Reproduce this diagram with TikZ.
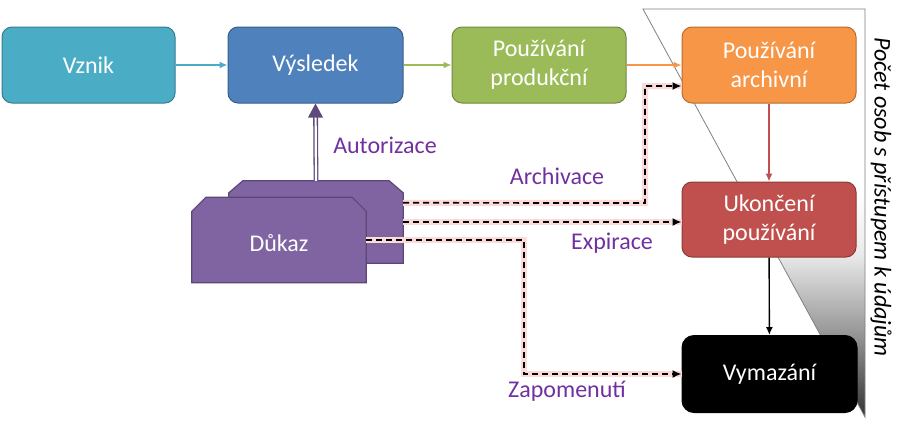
\documentclass[tikz,border=0pt]{standalone}
\usepackage{fontspec}
\setmainfont{Carlito}
\usetikzlibrary{arrows.meta,calc}
\definecolor{cVznik}{HTML}{4BACC6}\definecolor{bVznik}{HTML}{357D91}
\definecolor{cVysl}{HTML}{4F81BD}\definecolor{bVysl}{HTML}{385D8A}
\definecolor{cProd}{HTML}{9BBB59}\definecolor{bProd}{HTML}{71893F}
\definecolor{cArch}{HTML}{F79646}\definecolor{bArch}{HTML}{B66D31}
\definecolor{cUkon}{HTML}{C0504D}\definecolor{bUkon}{HTML}{8C3836}
\definecolor{cDuk}{HTML}{8064A2}\definecolor{bDuk}{HTML}{5C4776}
\definecolor{cPurpA}{HTML}{5F497A}
\definecolor{cLab}{HTML}{7030A0}
\definecolor{cGlow}{HTML}{FBDADA}
\pgfdeclareverticalshading{trishade}{100bp}{color(0bp)=(black!80); color(25bp)=(black!80); color(35bp)=(black!42); color(45bp)=(black!8); color(53bp)=(white); color(100bp)=(white)}
\begin{document}
\begin{tikzpicture}[x=1pt,y=-1pt,
  box/.style={draw, rounded corners=10pt, minimum width=174pt, minimum height=76pt,
    inner sep=0pt, align=center, text=white, font=\fontsize{24}{29}\selectfont, line width=1pt},
  dukshape/.style={fill=cDuk, draw=bDuk, line width=1.2pt, line join=miter},
  lab/.style={text=cLab, font=\fontsize{24}{29}\selectfont, inner sep=0pt},
  solidarr/.style={line width=1.4pt, -{Latex[length=8pt,width=7pt]}},
  dashconn/.style={line width=1.7pt, dash pattern=on 6pt off 4pt,
    -{Latex[length=9pt,width=8pt]},
    preaction={draw=cGlow, line width=6pt, solid, -}},
]
\useasboundingbox (0,0) rectangle (905,429);

% triangle
\shade[shading=trishade] (643,9) -- (865,9) -- (865,417) -- cycle;
\draw[black!50, line width=0.8pt] (643,9) -- (865,9) -- (865,417) -- cycle;

% axis label
\node[rotate=-90, font=\fontsize{24}{29}\selectfont\itshape, inner sep=0pt] (axis) at (881,197) {Počet osob s přístupem k údajům};

% boxes
\node[box, fill=cVznik, draw=bVznik, minimum width=173pt] (vznik) at (88.5,65) {Vznik};
\node[box, fill=cVysl, draw=bVysl, minimum width=175pt] (vysl) at (315.5,65) {Výsledek};
\node[box, fill=cProd, draw=bProd] (prod) at (539,65) {Používání\\produkční};
\node[box, fill=cArch, draw=bArch] (arch) at (769,65) {Používání\\archivní};
\node[box, fill=cUkon, draw=bUkon, minimum height=75pt] (ukon) at (769,219.5) {Ukončení\\používání};
\node[box, fill=black, draw=black, minimum width=175pt, minimum height=77pt, rounded corners=12pt] (vym) at (769.5,374) {Vymazání};

% Dukaz shapes
\node[minimum width=174pt, minimum height=82pt, inner sep=0pt] (dukb) at (316,222) {};
\draw[dukshape] (dukb.south west) -- ($(dukb.north west)+(0,12)$) -- ($(dukb.north west)+(14,0)$)
  -- ($(dukb.north east)+(-14,0)$) -- ($(dukb.north east)+(0,12)$) -- (dukb.south east) -- cycle;
\node[minimum width=174pt, minimum height=85pt, inner sep=0pt] (dukf) at (279,240) {};
\draw[dukshape] (dukf.south west) -- ($(dukf.north west)+(0,14)$) -- ($(dukf.north west)+(14,0)$)
  -- ($(dukf.north east)+(-14,0)$) -- ($(dukf.north east)+(0,14)$) -- (dukf.south east) -- cycle;
\node[text=white, font=\fontsize{24}{29}\selectfont, inner sep=0pt] (duktext) at (279,243) {Důkaz};

% solid arrows
\draw[solidarr, cVznik] (vznik) -- (vysl);
\draw[solidarr, cProd] (vysl) -- (prod);
\draw[solidarr, cArch] (prod) -- (arch);
\draw[solidarr, cUkon] (arch) -- (ukon);
\draw[solidarr, black] (ukon) -- (vym);

% Autorizace
\draw[cPurpA, line width=1.3pt, double=white, double distance=2.2pt, shorten >=13pt] (dukb.north) -- (vysl.south);
\fill[cPurpA] (vysl.south) -- ++(-7.5,14) -- ++(15,0) -- cycle;
\node[lab] (autlab) at (385,145) {Autorizace};

% dashed connectors
\draw[dashconn] ($(dukb.north east)+(0,22)$) -- (645,203) |- ($(arch.west)+(0,21)$);
\draw[dashconn] (dukb.east |- 0,222) -- (ukon.west |- 0,222);
\draw[dashconn] (dukf.east) -- (524,240) |- (vym.west);

\node[lab] (archlab) at (557,176) {Archivace};
\node[lab] (explab) at (612,243) {Expirace};
\node[lab] (zaplab) at (567,391) {Zapomenutí};
\end{tikzpicture}
\end{document}
